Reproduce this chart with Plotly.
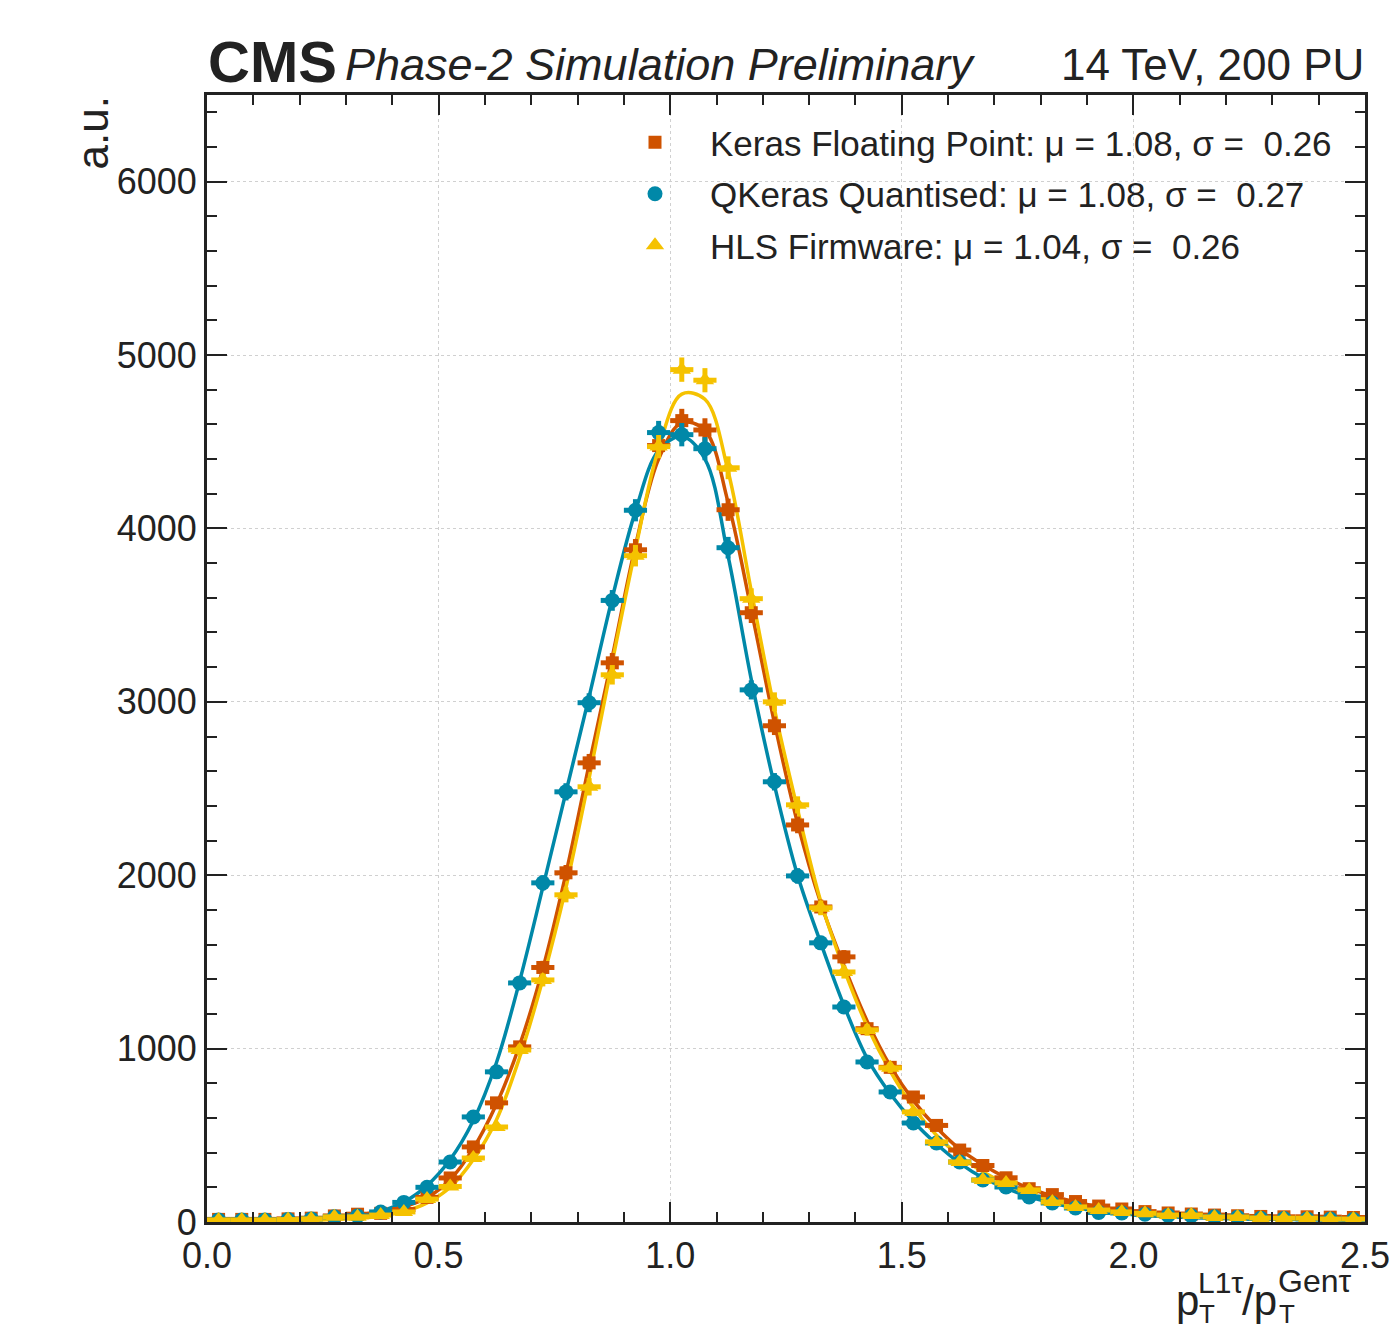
import numpy as np
import plotly.graph_objects as go

# ---------------- data ----------------
bin_centers = [0.025, 0.075, 0.125, 0.175, 0.225, 0.275, 0.325, 0.375, 0.425, 0.475,
               0.525, 0.575, 0.625, 0.675, 0.725, 0.775, 0.825, 0.875, 0.925, 0.975,
               1.025, 1.075, 1.125, 1.175, 1.225, 1.275, 1.325, 1.375, 1.425, 1.475,
               1.525, 1.575, 1.625, 1.675, 1.725, 1.775, 1.825, 1.875, 1.925, 1.975,
               2.025, 2.075, 2.125, 2.175, 2.225, 2.275, 2.325, 2.375, 2.425, 2.475]
bin_half_width = 0.025

keras_counts = [15, 15, 15, 18, 22, 35, 45, 50, 72, 142,
                254, 433, 687, 1010, 1468, 2014, 2648, 3225, 3877, 4478,
                4622, 4568, 4108, 3514, 2862, 2290, 1817, 1529, 1115, 892,
                721, 557, 415, 326, 255, 192, 158, 118, 92, 75,
                60, 52, 46, 40, 36, 32, 30, 30, 28, 26]
qkeras_counts = [12, 12, 12, 14, 18, 30, 35, 58, 113, 200,
                 346, 606, 866, 1379, 1956, 2481, 2995, 3585, 4105, 4553,
                 4541, 4460, 3889, 3069, 2539, 1996, 1610, 1240, 923, 750,
                 571, 456, 346, 242, 202, 144, 110, 81, 55, 52,
                 45, 38, 36, 30, 28, 22, 20, 18, 17, 15]
hls_counts = [12, 12, 12, 14, 18, 30, 30, 40, 58, 132,
              205, 369, 548, 992, 1396, 1887, 2510, 3156, 3843, 4472,
              4916, 4855, 4350, 3595, 3000, 2406, 1812, 1442, 1108, 889,
              635, 462, 346, 242, 225, 185, 115, 87, 69, 58,
              50, 40, 40, 29, 29, 23, 22, 22, 17, 17]

# fitted curves, read at the bin centres
keras_fit = [5, 6, 8, 12, 18, 28, 42, 60, 88, 140,
             245, 425, 680, 1020, 1460, 2010, 2640, 3260, 3900, 4400,
             4610, 4565, 4150, 3530, 2880, 2300, 1840, 1480, 1160, 900,
             700, 545, 420, 330, 255, 195, 150, 115, 88, 68,
             54, 44, 37, 32, 28, 25, 23, 21, 20, 19]
qkeras_fit = [4, 5, 7, 10, 14, 22, 35, 62, 115, 210,
              360, 585, 920, 1390, 1930, 2480, 3030, 3600, 4100, 4450,
              4530, 4400, 3840, 3130, 2520, 2000, 1610, 1250, 945, 740,
              580, 450, 340, 255, 195, 145, 110, 82, 62, 48,
              38, 30, 25, 21, 18, 16, 15, 14, 13, 12]
hls_fit = [4, 5, 6, 8, 10, 15, 22, 35, 60, 110,
           200, 360, 590, 950, 1400, 1930, 2560, 3230, 3880, 4460,
           4775, 4745, 4330, 3640, 2960, 2380, 1850, 1460, 1130, 870,
           660, 500, 380, 290, 220, 165, 125, 95, 72, 56,
           45, 37, 31, 27, 24, 22, 20, 19, 18, 17]

labels = ["Keras Floating Point: μ = 1.08, σ =  0.26",
          "QKeras Quantised: μ = 1.08, σ =  0.27",
          "HLS Firmware: μ = 1.04, σ =  0.26"]
colors = ["#cf5200", "#0088a8", "#f5c200"]
symbols = ["square", "circle", "triangle-up"]
msizes = [13, 15, 16]

x_ticks = [0.0, 0.5, 1.0, 1.5, 2.0, 2.5]
y_ticks = [0, 1000, 2000, 3000, 4000, 5000, 6000]

FONT = "Liberation Sans, Arial, sans-serif"
INK = "#222222"

fig = go.Figure()

series = [keras_counts, qkeras_counts, hls_counts]
fits = [keras_fit, qkeras_fit, hls_fit]

for fit, col in zip(fits, colors):
    fig.add_trace(go.Scatter(x=bin_centers, y=fit, mode="lines",
                             line=dict(color=col, width=3.5, shape="spline", smoothing=1.0),
                             showlegend=False, hoverinfo="skip"))

for i, (cnt, col, sym, ms, lab) in enumerate(zip(series, colors, symbols, msizes, labels)):
    fig.add_trace(go.Scatter(
        x=bin_centers, y=cnt, mode="markers", name=lab,
        legendgroup=f"g{i}",
        marker=dict(color=col, symbol=sym, size=ms, line=dict(width=0)),
        error_x=dict(type="constant", value=bin_half_width, thickness=5, width=0, color=col),
        error_y=dict(type="data", array=list(np.sqrt(cnt)), thickness=5, width=0, color=col),
    ))

axis_common = dict(
    showline=True, linewidth=3, linecolor=INK, mirror="allticks",
    ticks="inside", ticklen=20, tickwidth=2, tickcolor=INK,
    showgrid=True, gridcolor="#d0d0d0", gridwidth=1, griddash="dot",
    zeroline=False, automargin=False,
    tickfont=dict(family=FONT, size=36, color=INK),
)

fig.update_xaxes(range=[0, 2.5], tickvals=x_ticks, tickformat=".1f",
                 minor=dict(dtick=0.1, ticks="inside", ticklen=10, tickwidth=1.5,
                            tickcolor=INK, showgrid=False),
                 **axis_common)
fig.update_yaxes(range=[0, 6500], tickvals=y_ticks, tickformat="d",
                 minor=dict(dtick=200, ticks="inside", ticklen=10, tickwidth=1.5,
                            tickcolor=INK, showgrid=False),
                 **axis_common)

L, R, T, B = 207, 32, 95, 107
W, H = 1397, 1329
PW, PH = W - L - R, H - T - B


def px(x):
    return (x - L) / PW


def py(y):
    return (H - B - y) / PH


ann = []
ann.append(dict(text="<b>CMS</b>", x=px(206), y=py(62), xanchor="left", yanchor="middle",
                font=dict(family=FONT, size=58, color=INK)))
ann.append(dict(text="<i>Phase-2 Simulation Preliminary</i>", x=px(343), y=py(64),
                xanchor="left", yanchor="middle", font=dict(family=FONT, size=45, color=INK)))
ann.append(dict(text="14 TeV, 200 PU", x=px(1366), y=py(64), xanchor="right", yanchor="middle",
                font=dict(family=FONT, size=44, color=INK)))
ann.append(dict(text="a.u.", x=px(92), y=py(95), xanchor="center", yanchor="top", textangle=-90,
                font=dict(family=FONT, size=44, color=INK)))
# x-axis title pieces: p_T^{L1τ}/p_T^{Genτ}
ann.append(dict(text="p", x=px(1174), y=py(1300), xanchor="left", yanchor="middle",
                font=dict(family=FONT, size=42, color=INK)))
ann.append(dict(text="L1τ", x=px(1196), y=py(1282), xanchor="left", yanchor="middle",
                font=dict(family=FONT, size=30, color=INK)))
ann.append(dict(text="T", x=px(1197), y=py(1314), xanchor="left", yanchor="middle",
                font=dict(family=FONT, size=26, color=INK)))
ann.append(dict(text="/p", x=px(1240), y=py(1300), xanchor="left", yanchor="middle",
                font=dict(family=FONT, size=42, color=INK)))
ann.append(dict(text="Genτ", x=px(1276), y=py(1281), xanchor="left", yanchor="middle",
                font=dict(family=FONT, size=32, color=INK)))
ann.append(dict(text="T", x=px(1277), y=py(1314), xanchor="left", yanchor="middle",
                font=dict(family=FONT, size=26, color=INK)))
for a in ann:
    a.update(xref="paper", yref="paper", showarrow=False)

fig.update_layout(
    width=W, height=H, autosize=False,
    margin=dict(l=L, r=R, t=T, b=B, pad=0),
    paper_bgcolor="white", plot_bgcolor="white",
    font=dict(family=FONT, color=INK),
    annotations=ann,
    legend=dict(x=px(600), y=py(113), xanchor="left", yanchor="top",
                bgcolor="rgba(0,0,0,0)", font=dict(family=FONT, size=35, color=INK),
                traceorder="grouped", tracegroupgap=3, itemsizing="trace", itemwidth=100),
)

fig.write_html("out.html")
